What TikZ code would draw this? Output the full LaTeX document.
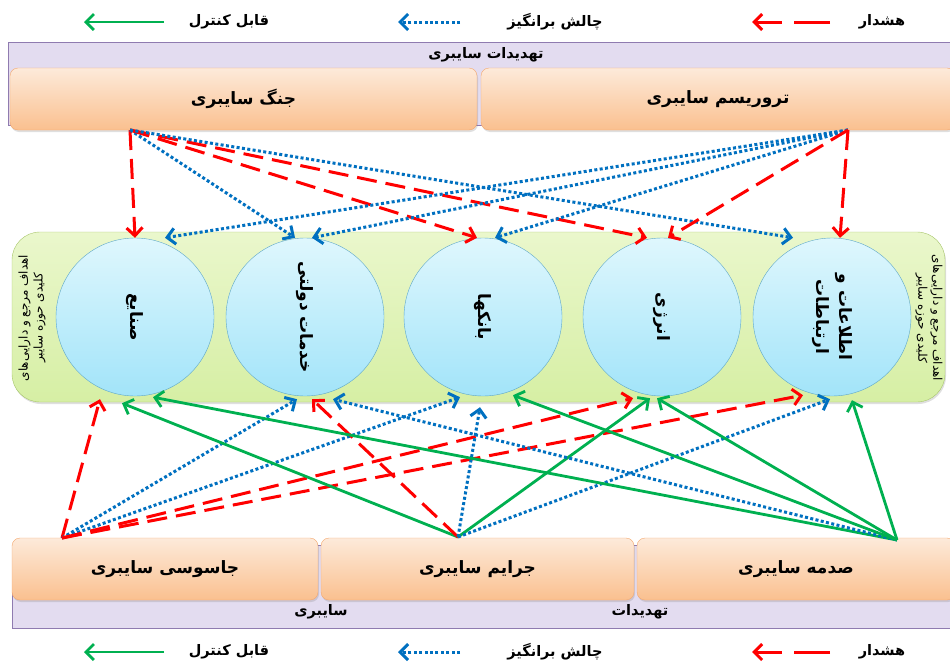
\documentclass[tikz,border=0pt]{standalone}
\usepackage{fontspec}
\newfontfamily\fa[Script=Arabic]{DejaVu Sans}
\TeXXeTstate=1
\newcommand{\fatxt}[1]{{\fa\beginR #1\endR}}
\usetikzlibrary{arrows.meta,shadows}

\definecolor{hred}{HTML}{FF0000}
\definecolor{cblue}{HTML}{0070C0}
\definecolor{kgreen}{HTML}{00B050}
\definecolor{boxtop}{HTML}{FDEADA}
\definecolor{boxbot}{HTML}{FAC08F}
\definecolor{boxline}{HTML}{F4A86E}
\definecolor{bandfill}{HTML}{E3DCF0}
\definecolor{bandline}{HTML}{8F7BB0}
\definecolor{zonetop}{HTML}{EAF7CC}
\definecolor{zonebot}{HTML}{D6EFA4}
\definecolor{zoneline}{HTML}{A8C66C}
\definecolor{circtop}{HTML}{DFF7FD}
\definecolor{circbot}{HTML}{A2E4F9}
\definecolor{circline}{HTML}{5FA8C8}

\tikzset{
  tip/.style={-{Straight Barb[length=8pt,width=16pt]}},
  warnline/.style={tip, draw=hred, line width=3pt, dash pattern=on 20pt off 9pt},
  hardline/.style={tip, draw=cblue, line width=3pt, dash pattern=on 3pt off 2.4pt},
  ctrlline/.style={tip, draw=kgreen, line width=2.8pt},
  threat/.style={draw=boxline, rounded corners=8pt, top color=boxtop, bottom color=boxbot,
    minimum height=62pt, inner sep=0pt, font=\fontsize{17}{20}\selectfont\bfseries,
    drop shadow={opacity=0.25, shadow xshift=1pt, shadow yshift=-2pt}},
  target/.style={circle, draw=circline, top color=circtop, bottom color=circbot,
    minimum size=158pt, inner sep=0pt},
  targettext/.style={rotate=-90, align=center, font=\fontsize{17}{23}\selectfont\bfseries},
  sidetext/.style={align=center, font=\fontsize{12}{15}\selectfont},
  keytext/.style={font=\fontsize{14.5}{17}\selectfont\bfseries},
}

\begin{document}
\begin{tikzpicture}[x=1pt,y=-1pt]
  \useasboundingbox (0,0) rectangle (950,664);

  % threat bands
  \draw[bandline, fill=bandfill] (8,42) rectangle (955,125);
  \draw[bandline, fill=bandfill] (12,545) rectangle (955,628);
  \node[keytext] (bandtop) at (486,55) {\fatxt{تهدیدات سایبری}};
  \node[keytext] (bandbotA) at (640,612) {\fatxt{تهدیدات}};
  \node[keytext] (bandbotB) at (321,612) {\fatxt{سایبری}};

  \node[threat, minimum width=467pt] (jang) at (243.5,99) {\fatxt{جنگ سایبری}};
  \node[threat, minimum width=474pt] (terror) at (718,99) {\fatxt{تروریسم سایبری}};
  \node[threat, minimum width=306pt] (jasus) at (165,569) {\fatxt{جاسوسی سایبری}};
  \node[threat, minimum width=313pt] (jarayem) at (477.5,569) {\fatxt{جرایم سایبری}};
  \node[threat, minimum width=318pt] (sadame) at (796,569) {\fatxt{صدمه سایبری}};

  % targets
  \draw[zoneline, top color=zonetop, bottom color=zonebot, rounded corners=28pt,
    drop shadow={opacity=0.25, shadow xshift=1pt, shadow yshift=-2pt}] (12,232) rectangle (945,402);
  \node[sidetext, rotate=90] (sideL) at (32,318)
    {\fatxt{اهداف مرجع و دارایی‌های}\\\fatxt{کلیدی حوزه سایبر}};
  \node[sidetext, rotate=-90] (sideR) at (929,318)
    {\fatxt{اهداف مرجع و دارایی‌های}\\\fatxt{کلیدی حوزه سایبر}};

  \foreach \i/\x/\lbl in {1/135/{\fatxt{صنایع}}, 2/305/{\fatxt{خدمات دولتی}},
      3/483/{\fatxt{بانکها}}, 4/662/{\fatxt{انرژی}},
      5/832/{\fatxt{اطلاعات و}\\\fatxt{ارتباطات}}} {
    \node[target] (c\i) at (\x,317) {};
    \node[targettext] (t\i) at (c\i) {\lbl};
  }

  \coordinate (jangP) at (130,130);
  \coordinate (terrP) at (848,130);
  \coordinate (jasP) at (62,538);
  \coordinate (jarP) at (458,537);
  \coordinate (sadP) at (897,540);

  \foreach \s/\t/\st/\d in {jangP/c1/warnline/0, jangP/c2/hardline/-10, jangP/c3/warnline/-6,
      jangP/c4/warnline/-15, jangP/c5/hardline/-39, terrP/c1/hardline/30, terrP/c2/hardline/7,
      terrP/c3/hardline/12, terrP/c4/warnline/6, terrP/c5/warnline/8}
    \draw[\st] (\s) -- ([xshift=\d pt]\t.north);

  \foreach \s/\t/\st/\d/\e in {jasP/c1/warnline/-35/-3, jasP/c2/hardline/-8/-3,
      jasP/c3/hardline/-23/-1, jasP/c4/warnline/-29/-2, jasP/c5/warnline/-29/1,
      jarP/c1/ctrlline/-13/-7, jarP/c2/warnline/7/-3, jarP/c3/hardline/-3/-11,
      jarP/c4/ctrlline/-12/-2, jarP/c5/hardline/-2/-3, sadP/c1/ctrlline/18/-1,
      sadP/c2/hardline/28/-3, sadP/c3/ctrlline/30/1, sadP/c4/ctrlline/-5/-2,
      sadP/c5/ctrlline/20/-4}
    \draw[\st] (\s) -- ([xshift=\d pt, yshift=\e pt]\t.south);

  % legends
  \foreach \y in {22,652} {
    \coordinate (ga\y) at (164,\y);
    \coordinate (gb\y) at (84,\y);
    \coordinate (ba\y) at (460,\y);
    \coordinate (bb\y) at (398,\y);
    \coordinate (ra\y) at (830,\y);
    \coordinate (rb\y) at (752,\y);
    \draw[ctrlline] (ga\y) -- (gb\y);
    \draw[hardline] (ba\y) -- (bb\y);
    \draw[warnline, dash pattern=on 36pt off 12pt] (ra\y) -- (rb\y);
    \node[keytext] (kc\y) at (229,\y) {\fatxt{قابل کنترل}};
    \node[keytext] (kh\y) at (555,\y) {\fatxt{چالش برانگیز}};
    \node[keytext] (kw\y) at (882,\y) {\fatxt{هشدار}};
  }
\end{tikzpicture}
\end{document}
